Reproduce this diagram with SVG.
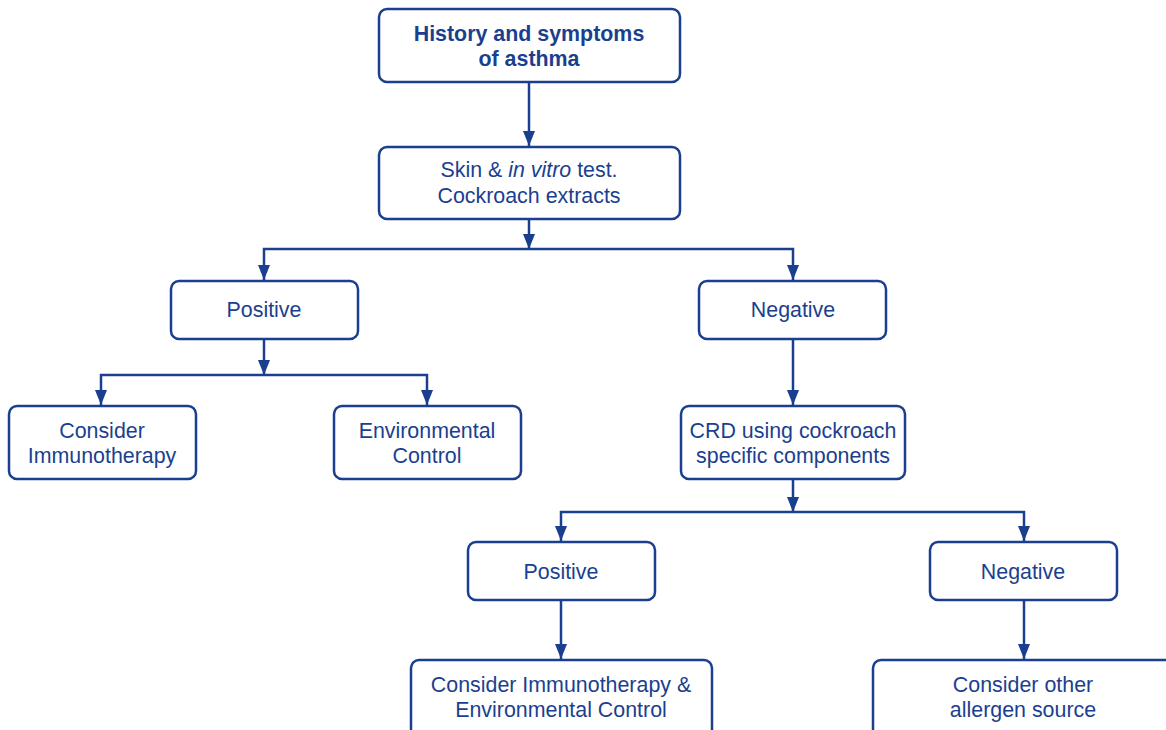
<svg xmlns="http://www.w3.org/2000/svg" width="1166" height="730" viewBox="0 0 1166 730">
<defs>
<marker id="ah" viewBox="0 0 15 12" refX="15" refY="6" markerWidth="15" markerHeight="12" markerUnits="userSpaceOnUse" orient="auto">
<path d="M0,0 L15,6 L0,12 Z" fill="#1b3f8f"/>
</marker>
<style>
.box{fill:#fff;stroke:#1b3f8f;stroke-width:2.5}
.t{font-family:"Liberation Sans",Arial,sans-serif;font-size:21.4px;fill:#1b3f8f;text-anchor:middle}
.b{font-weight:bold}
.c{fill:none;stroke:#1b3f8f;stroke-width:2.5}
</style>
</defs>
<rect width="1166" height="730" fill="#fff"/>
<g id="connectors">
<line class="c" x1="529" y1="82" x2="529" y2="146" marker-end="url(#ah)"/>
<line class="c" x1="529" y1="219" x2="529" y2="249" marker-end="url(#ah)"/>
<polyline class="c" points="264,280 264,249 793,249 793,280"/>
<path d="M258,265 L270,265 L264,280 Z" fill="#1b3f8f"/>
<path d="M787,265 L799,265 L793,280 Z" fill="#1b3f8f"/>
<line class="c" x1="264" y1="339" x2="264" y2="375" marker-end="url(#ah)"/>
<polyline class="c" points="101,405 101,375 427,375 427,405"/>
<path d="M95,390 L107,390 L101,405 Z" fill="#1b3f8f"/>
<path d="M421,390 L433,390 L427,405 Z" fill="#1b3f8f"/>
<line class="c" x1="793" y1="339" x2="793" y2="405" marker-end="url(#ah)"/>
<line class="c" x1="793" y1="479" x2="793" y2="512" marker-end="url(#ah)"/>
<polyline class="c" points="561,541 561,512 1024,512 1024,541"/>
<path d="M555,526 L567,526 L561,541 Z" fill="#1b3f8f"/>
<path d="M1018,526 L1030,526 L1024,541 Z" fill="#1b3f8f"/>
<line class="c" x1="561" y1="600" x2="561" y2="659" marker-end="url(#ah)"/>
<line class="c" x1="1024" y1="600" x2="1024" y2="659" marker-end="url(#ah)"/>
</g>
<g id="history">
<rect class="box" x="379" y="9" width="301" height="73" rx="8"/>
<text class="t b" x="529" y="41">History and symptoms</text>
<text class="t b" x="529" y="66">of asthma</text>
</g>
<g id="skin-test">
<rect class="box" x="379" y="147" width="301" height="72" rx="8"/>
<text class="t" x="529" y="177">Skin &amp; <tspan font-style="italic">in vitro</tspan> test.</text>
<text class="t" x="529" y="203">Cockroach extracts</text>
</g>
<g id="positive1">
<rect class="box" x="171" y="281" width="187" height="58" rx="8"/>
<text class="t" x="264" y="317">Positive</text>
</g>
<g id="negative1">
<rect class="box" x="699" y="281" width="187" height="58" rx="8"/>
<text class="t" x="793" y="317">Negative</text>
</g>
<g id="immunotherapy">
<rect class="box" x="9" y="406" width="187" height="73" rx="8"/>
<text class="t" x="102" y="438">Consider</text>
<text class="t" x="102" y="463">Immunotherapy</text>
</g>
<g id="environmental">
<rect class="box" x="334" y="406" width="187" height="73" rx="8"/>
<text class="t" x="427" y="438">Environmental</text>
<text class="t" x="427" y="463">Control</text>
</g>
<g id="crd">
<rect class="box" x="681" y="406" width="224" height="73" rx="8"/>
<text class="t" x="793" y="438">CRD using cockroach</text>
<text class="t" x="793" y="463">specific components</text>
</g>
<g id="positive2">
<rect class="box" x="468" y="542" width="187" height="58" rx="8"/>
<text class="t" x="561" y="579">Positive</text>
</g>
<g id="negative2">
<rect class="box" x="930" y="542" width="187" height="58" rx="8"/>
<text class="t" x="1023" y="579">Negative</text>
</g>
<g id="immuno-env">
<rect class="box" x="411" y="660" width="301" height="80" rx="8"/>
<text class="t" x="561" y="692">Consider Immunotherapy &amp;</text>
<text class="t" x="561" y="717">Environmental Control</text>
</g>
<g id="other-allergen">
<rect class="box" x="873" y="660" width="310" height="80" rx="8"/>
<text class="t" x="1023" y="692">Consider other</text>
<text class="t" x="1023" y="717">allergen source</text>
</g>
</svg>
